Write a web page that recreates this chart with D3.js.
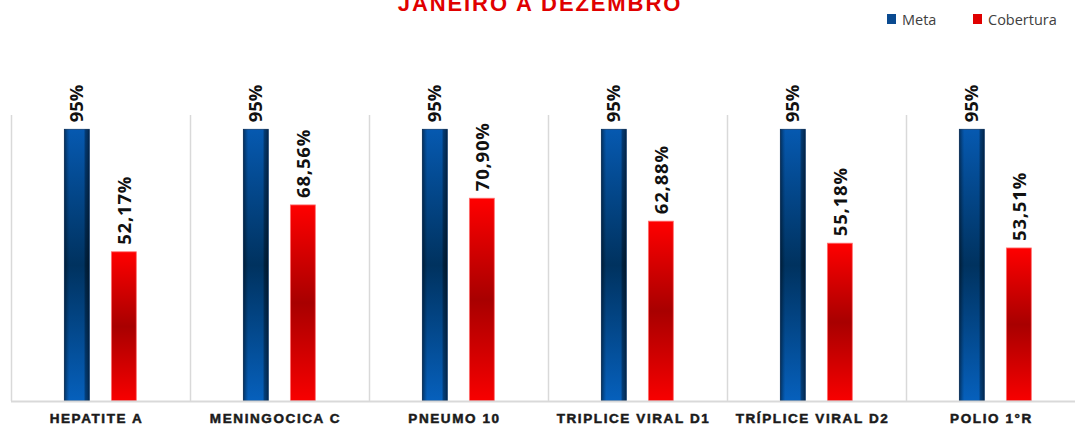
<!DOCTYPE html>
<html>
<head>
<meta charset="utf-8">
<script src="https://cdn.jsdelivr.net/npm/d3@7"></script>
<style>
  html, body { margin: 0; padding: 0; background: #fff; }
  svg { display: block; }
</style>
</head>
<body>
<svg id="chart" width="1075" height="425"></svg>
<script>
// data
const categories = ['HEPATITE A', 'MENINGOCICA C', 'PNEUMO 10', 'TRIPLICE VIRAL D1', 'TRÍPLICE VIRAL D2', 'POLIO 1°R'];
const series = ['Meta', 'Cobertura'];
const metaValues = [95, 95, 95, 95, 95, 95];
const metaLabels = ['95%', '95%', '95%', '95%', '95%', '95%'];
const coberturaValues = [52.17, 68.56, 70.90, 62.88, 55.18, 53.51];
const coberturaLabels = ['52,17%', '68,56%', '70,90%', '62,88%', '55,18%', '53,51%'];
const title = 'JANEIRO A DEZEMBRO';

const rows = categories.map(function(c, i) {
  return {
    category: c,
    values: [
      { key: 'Meta', value: metaValues[i], label: metaLabels[i] },
      { key: 'Cobertura', value: coberturaValues[i], label: coberturaLabels[i] }
    ]
  };
});

const svg = d3.select('#chart');
const plotLeft = 11, plotTop = 115, plotBottom = 401;
const step = 179;

const x0 = d3.scaleBand()
  .domain(categories)
  .range([plotLeft, plotLeft + step * categories.length])
  .padding(0);

const x1 = d3.scaleBand()
  .domain(series)
  .range([x0.bandwidth() * 0.298, x0.bandwidth() * 0.7])
  .paddingInner(0.47);

const y = d3.scaleLinear()
  .domain([0, 100])
  .range([plotBottom, plotTop]);

// gradients for the glossy bars
const defs = svg.append('defs');

function vGrad(id, stops) {
  const g = defs.append('linearGradient')
    .attr('id', id)
    .attr('x1', 0).attr('y1', 0).attr('x2', 0).attr('y2', 1);
  stops.forEach(function(s) {
    g.append('stop').attr('offset', s[0]).attr('stop-color', s[1]);
  });
}

vGrad('gradMeta', [[0, '#0659b0'], [0.5, '#00325f'], [1, '#0660bc']]);
vGrad('gradCob', [[0, '#ff0000'], [0.5, '#a80000'], [1, '#f80000']]);

// bevel shading across the blue bars
const bevel = defs.append('linearGradient')
  .attr('id', 'bevel')
  .attr('x1', 0).attr('y1', 0).attr('x2', 1).attr('y2', 0);
[[0, 'rgba(0,0,0,0.45)'], [0.14, 'rgba(0,0,0,0.1)'], [0.2, 'rgba(0,0,0,0)'],
 [0.78, 'rgba(0,0,0,0)'], [0.85, 'rgba(0,0,0,0.35)'], [1, 'rgba(0,0,0,0.55)']]
  .forEach(function(s) {
    bevel.append('stop').attr('offset', s[0]).attr('stop-color', s[1]);
  });

const fills = { Meta: 'url(#gradMeta)', Cobertura: 'url(#gradCob)' };

// title (cut off at the top in the original)
svg.append('text')
  .attr('x', 540)
  .attr('y', 11)
  .attr('text-anchor', 'middle')
  .attr('font-family', 'Liberation Sans, Arial, sans-serif')
  .attr('font-weight', 'bold')
  .attr('font-size', 22)
  .attr('letter-spacing', 1.9)
  .attr('fill', '#e00000')
  .text(title);

// legend
const legend = svg.append('g').attr('class', 'legend');
const legendX = [887, 973];
const legendColors = ['#0a4a90', '#e00000'];
series.forEach(function(s, i) {
  legend.append('rect')
    .attr('x', legendX[i])
    .attr('y', 14)
    .attr('width', 9)
    .attr('height', 10)
    .attr('fill', legendColors[i]);
  legend.append('text')
    .attr('x', legendX[i] + 15)
    .attr('y', 25)
    .attr('font-family', 'Open Sans, sans-serif')
    .attr('font-size', 14.5)
    .attr('fill', '#404040')
    .text(s);
});

// vertical separators between categories
svg.append('g')
  .selectAll('line')
  .data(categories)
  .enter().append('line')
    .attr('x1', function(d) { return x0(d) + 0.5; })
    .attr('x2', function(d) { return x0(d) + 0.5; })
    .attr('y1', y(100))
    .attr('y2', y(0))
    .attr('stroke', '#d9d9d9')
    .attr('stroke-width', 1.5);

// bars
const group = svg.append('g')
  .selectAll('g')
  .data(rows)
  .enter().append('g')
    .attr('transform', function(d) { return 'translate(' + x0(d.category) + ',0)'; });

group.selectAll('rect.bar')
  .data(function(d) { return d.values; })
  .enter().append('rect')
    .attr('class', 'bar')
    .attr('x', function(d) { return x1(d.key); })
    .attr('y', function(d) { return y(d.value); })
    .attr('width', x1.bandwidth())
    .attr('height', function(d) { return y(0) - y(d.value); })
    .attr('fill', function(d) { return fills[d.key]; })
    .attr('stroke', function(d) { return d.key === 'Meta' ? '#0b3a70' : '#ff7070'; })
    .attr('stroke-width', 0.8);

group.selectAll('rect.bevel')
  .data(function(d) { return d.values.filter(function(v) { return v.key === 'Meta'; }); })
  .enter().append('rect')
    .attr('class', 'bevel')
    .attr('x', function(d) { return x1(d.key); })
    .attr('y', function(d) { return y(d.value); })
    .attr('width', x1.bandwidth())
    .attr('height', function(d) { return y(0) - y(d.value); })
    .attr('fill', 'url(#bevel)');

// value labels, rotated
group.selectAll('text.value')
  .data(function(d) { return d.values; })
  .enter().append('text')
    .attr('class', 'value')
    .attr('transform', function(d) {
      const cx = x1(d.key) + x1.bandwidth() / 2;
      return 'translate(' + cx + ',' + (y(d.value) - 7) + ') rotate(-90)';
    })
    .attr('dy', '0.36em')
    .attr('font-family', 'Open Sans, sans-serif')
    .attr('font-weight', 'bold')
    .attr('font-size', 18.5)
    .attr('letter-spacing', function(d) { return d.key === 'Meta' ? 0 : 0.8; })
    .attr('fill', '#111')
    .text(function(d) { return d.label; });

// baseline
svg.append('line')
  .attr('x1', plotLeft)
  .attr('x2', 1075)
  .attr('y1', y(0) + 0.5)
  .attr('y2', y(0) + 0.5)
  .attr('stroke', '#d9d9d9')
  .attr('stroke-width', 2);

// category axis
const xAxis = svg.append('g')
  .attr('transform', 'translate(0,' + y(0) + ')')
  .call(d3.axisBottom(x0).tickSize(0).tickPadding(12));

xAxis.select('.domain').remove();
xAxis.selectAll('text')
  .attr('dx', '-4')
  .attr('font-family', 'Liberation Sans, Arial, sans-serif')
  .attr('font-weight', 'bold')
  .attr('font-size', 13.5)
  .attr('letter-spacing', 1.6)
  .attr('fill', '#1a1a1a')
  .attr('stroke', '#1a1a1a')
  .attr('stroke-width', 0.5);
</script>
</body>
</html>
